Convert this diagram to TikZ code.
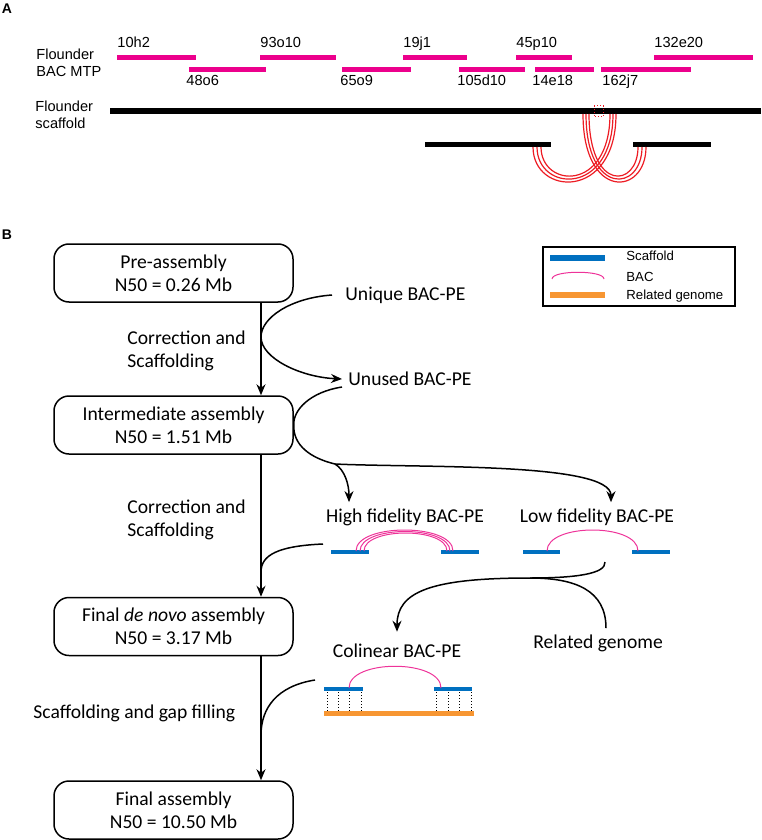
\documentclass[tikz,border=0pt]{standalone}
\usepackage{fontspec}
\setmainfont{Carlito}
\newfontfamily\arialfont{Liberation Sans}
\usetikzlibrary{arrows.meta}

\definecolor{bacpink}{RGB}{236,0,140}
\definecolor{arcpink}{RGB}{238,51,153}
\definecolor{linkred}{RGB}{237,28,36}
\definecolor{scafblue}{RGB}{0,112,192}
\definecolor{genorange}{RGB}{247,150,50}

\newcommand\flowfont{\fontsize{9.8}{11.5}\selectfont}
\newcommand\mapfont{\arialfont\fontsize{7.3}{8.6}\selectfont}
\newcommand\keyfont{\arialfont\fontsize{6.6}{7.8}\selectfont}

\tikzset{
	>={Stealth[length=5.5pt,width=4.5pt]},
	panel/.style={font=\arialfont\bfseries\fontsize{7}{8}\selectfont, inner sep=0pt},
	maptext/.style={font=\mapfont, inner sep=0pt, align=left},
	bac/.style={bacpink, line width=2.5pt},
	scaf/.style={black, line width=2.6pt},
	link/.style={linkred, line width=0.6pt},
	stage/.style={draw, line width=0.75pt, rounded corners=7.5pt, minimum width=119.5pt, minimum height=29pt, align=center, font=\flowfont},
	flowtext/.style={font=\flowfont, inner sep=3pt, align=left},
	flow/.style={line width=0.75pt},
	contig/.style={scafblue, line width=2pt},
	pairarc/.style={arcpink, line width=0.5pt},
	genome/.style={genorange, line width=2.5pt},
	anchorline/.style={densely dotted, line width=0.5pt},
	keybox/.style={draw, line width=0.6pt, minimum width=96pt, minimum height=29.5pt, inner sep=0pt},
	keytext/.style={font=\keyfont, inner sep=0pt, anchor=west}
}

\begin{document}
\begin{tikzpicture}[x=0.5pt, y=-0.5pt]
		\useasboundingbox (0,0) rectangle (761,840);
		
		\node[panel] (labA) at (7,9) {A};
		\node[panel] (labB) at (7,235) {B};
		
		\node[maptext, anchor=west] (flmtp) at (36,62.9) {Flounder\\BAC MTP};
		\node[maptext, anchor=west] (flscaf) at (35,114.4) {Flounder\\scaffold};
		
		\draw[bac] (117,57.5) -- (196,57.5);
		\node[maptext, anchor=base west] (bac10h2) at (117,47.5) {10h2};
		\draw[bac] (260,57.5) -- (336,57.5);
		\node[maptext, anchor=base west] (bac93o10) at (260,47.5) {93o10};
		\draw[bac] (403,57.5) -- (467,57.5);
		\node[maptext, anchor=base west] (bac19j1) at (403,47.5) {19j1};
		\draw[bac] (516,57.5) -- (572,57.5);
		\node[maptext, anchor=base west] (bac45p10) at (516,47.5) {45p10};
		\draw[bac] (654,57.5) -- (753,57.5);
		\node[maptext, anchor=base west] (bac132e20) at (654,47.5) {132e20};
		
		\draw[bac] (189,69.2) -- (266,69.2);
		\node[maptext, anchor=base west] (bac48o6) at (186,86) {48o6};
		\draw[bac] (342,69.2) -- (411,69.2);
		\node[maptext, anchor=base west] (bac65o9) at (340,86) {65o9};
		\draw[bac] (459,69.2) -- (525,69.2);
		\node[maptext, anchor=base west] (bac105d10) at (457,86) {105d10};
		\draw[bac] (535,69.2) -- (594,69.2);
		\node[maptext, anchor=base west] (bac14e18) at (532,86) {14e18};
		\draw[bac] (601,69.2) -- (691,69.2);
		\node[maptext, anchor=base west] (bac162j7) at (602,86) {162j7};
		
		\draw[scaf] (110,111) -- (761,111);
		\draw[scaf, line width=2.4pt] (425,144.5) -- (551,144.5);
		\draw[scaf, line width=2.4pt] (633,144.5) -- (711,144.5);
		\draw[linkred, densely dotted, line width=0.5pt] (594,106) rectangle (603,117);
		
		\draw[link] (533,147) .. controls (533,196) and (616,201) .. (616,114);
		\draw[link] (537,147) .. controls (537,192) and (613,197) .. (613,114);
		\draw[link] (541,147) .. controls (541,188) and (610,193) .. (610,114);
		\draw[link] (583,114) .. controls (583,201) and (646,196) .. (646,147);
		\draw[link] (586,114) .. controls (586,197) and (642,192) .. (642,147);
		\draw[link] (589,114) .. controls (589,193) and (638,188) .. (638,147);
		
		\node[stage] (pre) at (173.5,273) {Pre-assembly\\N50 = 0.26 Mb};
		\node[stage] (inter) at (173.5,425) {Intermediate assembly\\N50 = 1.51 Mb};
		\node[stage] (denovo) at (173.5,626.5) {Final \textit{de novo} assembly\\N50 = 3.17 Mb};
		\node[stage] (final) at (173.5,810) {Final assembly\\N50 = 10.50 Mb};
		
		\coordinate (trunk) at (261,0);
		\draw[flow, ->] (pre.south -| trunk) -- (inter.north -| trunk);
		\draw[flow, ->] (inter.south -| trunk) -- (denovo.north -| trunk);
		\draw[flow, ->] (denovo.south -| trunk) -- (final.north -| trunk);
		
		\node[flowtext, anchor=west] (corr1) at (121,351) {Correction and\\Scaffolding};
		\node[flowtext, anchor=west] (corr2) at (121,520) {Correction and\\Scaffolding};
		\node[flowtext, anchor=west] (gapfill) at (27,713) {Scaffolding and gap filling};
		
		\node[flowtext, anchor=west] (unique) at (339,295) {Unique BAC-PE};
		\node[flowtext, anchor=west] (unused) at (342,379) {Unused BAC-PE};
		\node[flowtext] (high) at (405,517) {High fidelity BAC-PE};
		\node[flowtext] (low) at (597,517) {Low fidelity BAC-PE};
		\node[flowtext] (colinear) at (397,651) {Colinear BAC-PE};
		\node[flowtext] (related) at (598,643) {Related genome};
		
		\draw[flow, ->] ([xshift=-3.5pt]unique.west) .. controls (290,298) and (261,318) .. (261,337) .. controls (261,358) and (300,377) .. (unused.west);
		
		\coordinate (split) at (335,464);
		\draw[flow] ([yshift=-4pt]unused.west) .. controls (310,392) and (293,410) .. (inter.east) .. controls (293,445) and (310,458) .. (split);
		\draw[flow, ->] (split) .. controls (345,470) and (349,485) .. ([xshift=-28pt]high.north);
		\draw[flow, ->] (split) .. controls (420,468) and (611,462) .. ([xshift=7pt]low.north);
		
		\coordinate (hfout) at (323,544);
		\coordinate (hfjoin) at (261,572);
		\draw[flow] (hfout) .. controls (278,546) and (261,555) .. (hfjoin);
		
		\coordinate (lfout) at (605,562);
		\coordinate (lowjoin) at (530,578);
		\draw[flow, ->] (lfout) .. controls (606,574) and (575,578) .. (lowjoin) .. controls (430,578) and (397,592) .. ([yshift=3pt]colinear.north);
		\draw[flow] ([xshift=4pt]related.north) .. controls (606,590) and (575,578) .. (lowjoin);
		
		\coordinate (colout) at (315,680);
		\coordinate (coljoin) at (261,735);
		\draw[flow] (colout) .. controls (277,686) and (261,708) .. (coljoin);
		
		\draw[contig] (331,552) -- (369,552);
		\draw[contig] (441,552) -- (479,552);
		\draw[pairarc] (356,551) .. controls (356,523) and (453,523) .. (453,551);
		\draw[pairarc] (360,551) .. controls (360,525) and (450,525) .. (450,551);
		\draw[pairarc] (364,551) .. controls (364,527) and (447,527) .. (447,551);
		
		\draw[contig] (523,552) -- (560,552);
		\draw[contig] (632,552) -- (670,552);
		\draw[pairarc] (547,551) .. controls (547,523) and (638,523) .. (638,551);
		
		\draw[contig] (324,689) -- (363,689);
		\draw[contig] (434,689) -- (472,689);
		\draw[genome] (324,713) -- (474,713);
		\draw[pairarc] (349,688) .. controls (349,659) and (441,659) .. (441,688);
		\draw[anchorline] (327,692) -- (327,711);
		\draw[anchorline] (338,692) -- (338,711);
		\draw[anchorline] (349,692) -- (349,711);
		\draw[anchorline] (361,692) -- (361,711);
		\draw[anchorline] (436,692) -- (436,711);
		\draw[anchorline] (448,692) -- (448,711);
		\draw[anchorline] (459,692) -- (459,711);
		\draw[anchorline] (471,692) -- (471,711);
		
		\node[keybox] (key) at (639,276.5) {};
		\draw[contig, line width=2.8pt] (550,258) -- (605,258);
		\draw[pairarc] (552,279) .. controls (552,270) and (604,270) .. (604,279);
		\draw[genome, line width=2.8pt] (550,295) -- (605,295);
		\node[keytext] (keyscaf) at (626,256) {Scaffold};
		\node[keytext] (keybac) at (626,277) {BAC};
		\node[keytext] (keygen) at (626,296) {Related genome};
	\end{tikzpicture}
\end{document}
